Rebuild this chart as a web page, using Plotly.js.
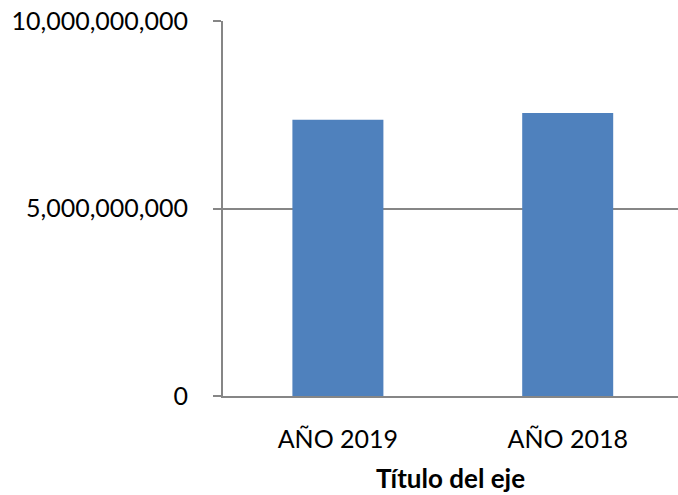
<!DOCTYPE html>
<html>
<head>
<meta charset="utf-8">
<script src="https://cdn.plot.ly/plotly-3.0.1.min.js"></script>
<style>html,body{margin:0;padding:0;background:#fff;}#chart{width:678px;height:495px;}</style>
</head>
<body>
<div id="chart"></div>
<script>
const categories = ["AÑO 2019", "AÑO 2018"];
const values = [7370000000, 7550000000];
const yTickVals = [0, 5000000000, 10000000000];
const yTickText = ["0", "5,000,000,000", "10,000,000,000"];
const xTitle = "Título del eje";

const gray = "#868686";
const data = [{
  type: "bar",
  x: categories,
  y: values,
  marker: {color: "#4F81BD", line: {width: 0}},
  hoverinfo: "none"
}];
const layout = {
  width: 678, height: 495,
  margin: {l: 223, r: 0, t: 21, b: 99, pad: 0},
  paper_bgcolor: "#fff", plot_bgcolor: "#fff",
  font: {family: "Lato, 'Noto Sans', sans-serif", size: 25, color: "#000"},
  bargap: 0.604,
  showlegend: false,
  xaxis: {
    type: "category",
    range: [-0.5, 1.48],
    showgrid: false,
    showline: true, linecolor: gray, linewidth: 2,
    ticks: "", ticklabelstandoff: 20,
    tickfont: {size: 25},
    automargin: true,
    title: {text: xTitle, font: {size: 26, weight: "bold"}, standoff: 18}
  },
  yaxis: {
    range: [0, 10000000000],
    tickvals: yTickVals, ticktext: yTickText,
    showgrid: true, gridcolor: gray, gridwidth: 2,
    zeroline: false,
    showline: true, linecolor: gray, linewidth: 2,
    ticks: "outside", ticklen: 8, tickcolor: gray, tickwidth: 2,
    ticklabelstandoff: 20,
    tickfont: {size: 25},
    automargin: false
  }
};
Plotly.newPlot("chart", data, layout, {staticPlot: true, displayModeBar: false});
</script>
</body>
</html>
